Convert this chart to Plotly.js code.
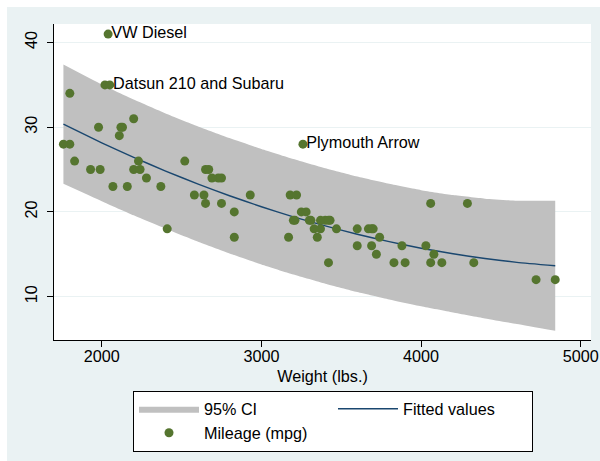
<!DOCTYPE html>
<html>
<head>
<meta charset="utf-8">
<script src="https://cdn.plot.ly/plotly-3.0.1.min.js"></script>
<style>
  html, body { margin: 0; padding: 0; background: #ffffff; width: 600px; height: 461px; overflow: hidden; }
  #chart { position: absolute; left: 7px; top: 7px; width: 593px; height: 454px; }
</style>
</head>
<body>
<div id="chart"></div>
<script>
// Observed data (weight in lbs., mileage in mpg)
const weight = [2930,3350,2640,3250,4080,3670,2230,3280,3880,3400,4330,3900,4290,2110,3690,3180,3220,2750,3430,2120,3600,3600,3740,1800,2650,4840,4720,3830,2580,4060,3720,3370,4130,2830,4060,3310,3300,3690,3370,2730,4030,3260,1800,2200,2520,3330,3700,3470,3210,3200,3420,2690,2830,2070,2650,2370,2020,2280,2750,2130,2240,1760,1980,3420,1830,2050,2410,2200,2670,2160,2040,1930,1990,3170];
const mpg = [22,17,22,20,15,18,26,20,16,19,14,14,21,29,16,22,22,24,19,30,18,16,17,28,21,12,12,14,22,14,15,18,14,20,21,19,19,18,19,24,16,28,34,25,26,18,18,18,19,19,19,24,17,23,25,23,35,24,21,30,25,28,30,14,26,35,18,31,25,23,41,25,25,17];

// Labelled points
const labelText = ["VW Diesel", "Datsun 210 and Subaru", "Plymouth Arrow"];
const labelWeight = [2040, 2050, 3260];
const labelMpg = [41, 35, 28];

// Fitted values and 95% CI
const gridWeight = [1760,2000,2200,2400,2600,2800,3000,3200,3400,3600,3800,4000,4200,4400,4600,4840];
const fitted = [30.36,28.16,26.44,24.82,23.31,21.91,20.61,19.42,18.34,17.36,16.48,15.71,15.05,14.49,14.04,13.64];
const ciUpper = [37.41,35.05,33.27,31.63,30.12,28.72,27.43,26.24,25.15,24.17,23.31,22.57,21.98,21.56,21.33,21.33];
const ciLower = [23.32,21.27,19.60,18.01,16.51,15.10,13.79,12.60,11.52,10.54,9.66,8.85,8.12,7.42,6.75,5.95];

const xTicks = [2000, 3000, 4000, 5000];
const yTicks = [10, 20, 30, 40];

const FONT = "Liberation Sans, Arial, Helvetica, sans-serif";
const FS = 16.2;

const traces = [
  {
    type: "scatter", mode: "lines", name: "95% CI lower", showlegend: false,
    x: gridWeight, y: ciLower,
    line: { width: 0, color: "#c0c0c0", shape: "spline", smoothing: 0.5 },
    hoverinfo: "skip"
  },
  {
    type: "scatter", mode: "lines", name: "95% CI",
    x: gridWeight, y: ciUpper, fill: "tonexty", fillcolor: "#c0c0c0",
    line: { width: 0, color: "#c0c0c0", shape: "spline", smoothing: 0.5 },
    hoverinfo: "skip"
  },
  {
    type: "scatter", mode: "lines", name: "Fitted values",
    x: gridWeight, y: fitted,
    line: { color: "#1a476f", width: 1.4, shape: "spline", smoothing: 0.5 }
  },
  {
    type: "scatter", mode: "markers", name: "Mileage (mpg)",
    x: weight, y: mpg,
    marker: { color: "#55752f", size: 9, line: { width: 0 } }
  },
  {
    type: "scatter", mode: "text", showlegend: false,
    x: labelWeight, y: labelMpg, text: labelText.map(t => "\u2009" + t),
    textposition: "middle right",
    textfont: { family: FONT, size: FS, color: "#000000" },
    hoverinfo: "skip"
  }
];

const layout = {
  width: 593, height: 454,
  paper_bgcolor: "#eaf2f3",
  plot_bgcolor: "#ffffff",
  margin: { l: 47, r: 9, t: 17, b: 119 },
  font: { family: FONT, size: FS, color: "#000000" },
  showlegend: true,
  xaxis: {
    range: [1701, 5064],
    tickvals: xTicks, ticktext: xTicks.map(String),
    ticks: "outside", ticklen: 6, tickcolor: "#000000", tickwidth: 1,
    ticklabelstandoff: -4,
    showline: true, linecolor: "#000000", linewidth: 1,
    showgrid: false, zeroline: false,
    tickfont: { family: FONT, size: FS },
    title: { text: "Weight (lbs.)", font: { family: FONT, size: FS }, standoff: 6 }
  },
  yaxis: {
    range: [4.87, 42.19],
    tickvals: yTicks, ticktext: yTicks.map(String),
    tickangle: -90,
    ticks: "outside", ticklen: 6, tickcolor: "#000000", tickwidth: 1,
    ticklabelstandoff: 4,
    showline: true, linecolor: "#000000", linewidth: 1,
    showgrid: true, gridcolor: "#eaf2f3", gridwidth: 1,
    zeroline: false,
    tickfont: { family: FONT, size: FS }
  },
  legend: {
    orientation: "h",
    x: 0.1471, xanchor: "left",
    y: -0.1604, yanchor: "top",
    bgcolor: "#ffffff", bordercolor: "#000000", borderwidth: 1,
    entrywidth: 124, entrywidthmode: "pixels",
    itemwidth: 60,
    font: { family: FONT, size: FS },
    traceorder: "normal"
  }
};

Plotly.newPlot("chart", traces, layout, { displayModeBar: false, staticPlot: true });
</script>
</body>
</html>
